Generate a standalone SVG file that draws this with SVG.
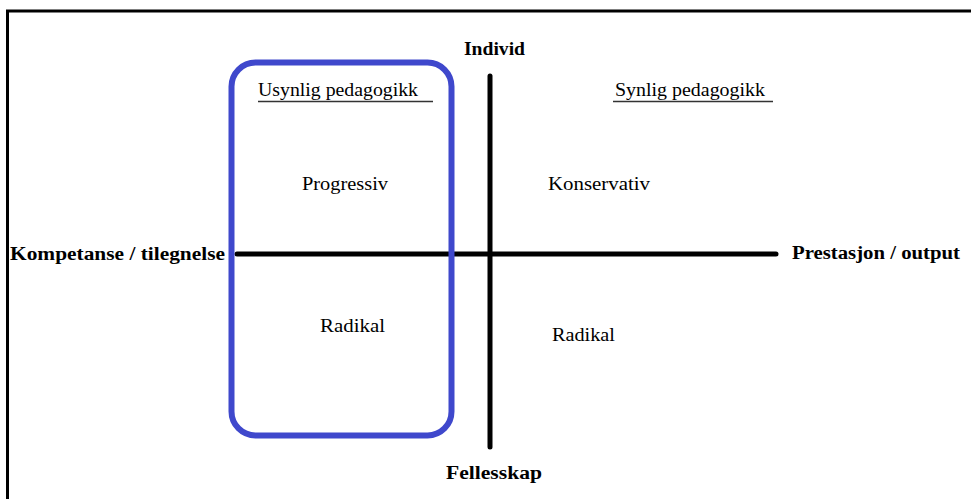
<svg xmlns="http://www.w3.org/2000/svg" width="971" height="499" viewBox="0 0 971 499">
  <style>
    .axis { stroke: #000; stroke-width: 5; stroke-linecap: round; fill: none; }
    text { font-family: 'Liberation Serif', 'DejaVu Serif', serif; font-size: 18px; fill: #000; }
    .bold { font-weight: bold; }
    .ul { stroke: #333; stroke-width: 1.3; }
  </style>
  <rect width="971" height="499" fill="#fff"/>
  <!-- outer frame -->
  <path d="M7.5 499 V11 H971" fill="none" stroke="#000" stroke-width="3"/>

  <g id="connectors">
    <line class="axis" x1="237" y1="254" x2="776" y2="254"/>
    <line class="axis" x1="490" y1="76" x2="490" y2="447"/>
  </g>

  <g id="usynlig-box">
    <rect x="231.5" y="62.5" width="220" height="373" rx="24" ry="24" fill="none" stroke="#3f48cc" stroke-width="6"/>
  </g>

  <g id="individ"><text class="bold" x="464" y="55" font-size="19" textLength="61" lengthAdjust="spacingAndGlyphs">Individ</text></g>
  <g id="fellesskap"><text class="bold" x="446" y="479" font-size="19" textLength="96" lengthAdjust="spacingAndGlyphs">Fellesskap</text></g>
  <g id="kompetanse"><text class="bold" x="10" y="260" textLength="215" lengthAdjust="spacingAndGlyphs">Kompetanse / tilegnelse</text></g>
  <g id="prestasjon"><text class="bold" x="792" y="259" textLength="168" lengthAdjust="spacingAndGlyphs">Prestasjon / output</text></g>

  <g id="usynlig-pedagogikk">
    <text x="258" y="96" textLength="160" lengthAdjust="spacingAndGlyphs">Usynlig pedagogikk</text>
    <line class="ul" x1="258" y1="101.5" x2="433" y2="101.5"/>
  </g>
  <g id="synlig-pedagogikk">
    <text x="615" y="96" textLength="150" lengthAdjust="spacingAndGlyphs">Synlig pedagogikk</text>
    <line class="ul" x1="613" y1="101.5" x2="773" y2="101.5"/>
  </g>
  <g id="progressiv"><text x="302" y="190" textLength="86" lengthAdjust="spacingAndGlyphs">Progressiv</text></g>
  <g id="konservativ"><text x="548" y="190" textLength="102" lengthAdjust="spacingAndGlyphs">Konservativ</text></g>
  <g id="radikal-left"><text x="320" y="332" textLength="65" lengthAdjust="spacingAndGlyphs">Radikal</text></g>
  <g id="radikal-right"><text x="552" y="341" textLength="63" lengthAdjust="spacingAndGlyphs">Radikal</text></g>
</svg>
